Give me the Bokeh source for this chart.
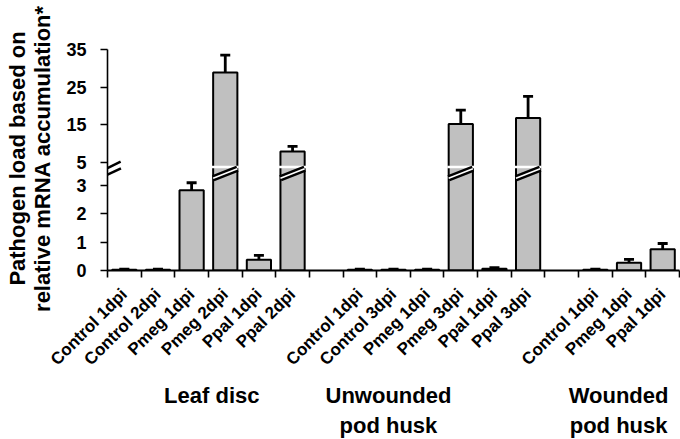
import math
from bokeh.plotting import figure
from bokeh.models import (ColumnDataSource, Range1d, LinearAxis, FixedTicker, Whisker,
                          TeeHead, Arrow)
from bokeh.embed import file_html
from bokeh.resources import INLINE

# ---------------- data ----------------
group_titles = ["Leaf disc", "Unwounded\npod husk", "Wounded\npod husk"]

leaf_labels = ["Control 1dpi", "Control 2dpi", "Pmeg 1dpi", "Pmeg 2dpi", "Ppal 1dpi", "Ppal 2dpi"]
leaf_values = [0.03, 0.03, 2.83, 28.9, 0.38, 7.9]
leaf_errors = [0.02, 0.02, 0.26, 4.6, 0.15, 1.33]

unw_labels = ["Control 1dpi", "Control 3dpi", "Pmeg 1dpi", "Pmeg 3dpi", "Ppal 1dpi", "Ppal 3dpi"]
unw_values = [0.03, 0.03, 0.03, 15.2, 0.06, 16.8]
unw_errors = [0.02, 0.02, 0.02, 3.65, 0.04, 5.75]

wnd_labels = ["Control 1dpi", "Pmeg 1dpi", "Ppal 1dpi"]
wnd_values = [0.03, 0.27, 0.75]
wnd_errors = [0.02, 0.12, 0.2]

low_ticks = [0, 1, 2, 3]
up_ticks = [5, 15, 25, 35]

y_title = "Pathogen load based on\nrelative mRNA accumulation*"

# ---------------- layout constants ----------------
FRAME_W, FRAME_H = 572, 224
BORDER_L, BORDER_T, BORDER_B = 107, 46, 169
TOP_GAP_PX = 3                         # px between frame top and the highest tick
LOW_PX = 28.4                          # px per unit, lower segment
UP_PX = 3.76                           # px per unit, upper segment
LOW_TOP = FRAME_H / LOW_PX
UP_TOP = up_ticks[-1] + TOP_GAP_PX / UP_PX
UP_BOTTOM = UP_TOP - FRAME_H / UP_PX
BREAK = 4.0                            # values above are drawn on upper scale
CUT_Y = 3.64                           # white cut (lower units)
BAR_W = 0.72
FONT = "Liberation Sans"

all_labels = [leaf_labels, unw_labels, wnd_labels]
all_values = [leaf_values, unw_values, wnd_values]
all_errors = [leaf_errors, unw_errors, wnd_errors]

# slot positions: one empty slot between groups
xs, labs_all, vals, errs = [], [], [], []
offset = 0
for labs, vs, es in zip(all_labels, all_values, all_errors):
    for j, (l, v, e) in enumerate(zip(labs, vs, es)):
        xs.append(offset + j + 0.5)
        labs_all.append(l)
        vals.append(v)
        errs.append(e)
    offset += len(labs) + 1
n_slots = offset - 1

small = [i for i, v in enumerate(vals) if v < BREAK]
tall = [i for i, v in enumerate(vals) if v >= BREAK]

def pick(idx, arr):
    return [arr[i] for i in idx]

src_small = ColumnDataSource(dict(
    x=pick(small, xs), top=pick(small, vals),
    upper=[vals[i] + errs[i] for i in small],
    lower=[vals[i] - errs[i] for i in small],
))
src_tall = ColumnDataSource(dict(
    x=pick(tall, xs), top=pick(tall, vals),
    upper=[vals[i] + errs[i] for i in tall],
    lower=[vals[i] - errs[i] for i in tall],
    xl=[xs[i] - BAR_W / 2 - 0.04 for i in tall],
    xr=[xs[i] + BAR_W / 2 + 0.04 for i in tall],
    dl=[xs[i] - BAR_W / 2 for i in tall],
    dr=[xs[i] + BAR_W / 2 for i in tall],
))

p = figure(
    x_range=Range1d(0, n_slots),
    y_range=Range1d(0, LOW_TOP),
    frame_width=FRAME_W, frame_height=FRAME_H,
    output_backend="svg", toolbar_location=None,
    x_axis_location=None, y_axis_location=None,
    min_border_left=BORDER_L, min_border_right=1, min_border_top=BORDER_T,
    min_border_bottom=BORDER_B,
)
p.extra_y_ranges = {"upper": Range1d(UP_BOTTOM, UP_TOP)}
p.outline_line_color = None
p.grid.visible = False
p.background_fill_color = "white"
p.border_fill_color = "white"

BAR_FILL = "#c0c0c0"
p.vbar(x="x", top="top", bottom=0, width=BAR_W, source=src_small,
       fill_color=BAR_FILL, line_color="black", line_width=2)
p.vbar(x="x", top="top", bottom=UP_BOTTOM, width=BAR_W, source=src_tall,
       y_range_name="upper", fill_color=BAR_FILL, line_color="black", line_width=2)

# break decoration on tall bars
p.segment(x0="xl", x1="xr", y0=CUT_Y, y1=CUT_Y, source=src_tall,
          line_color="white", line_width=2.5)
p.segment(x0="dl", x1="dr", y0=3.25, y1=3.58, source=src_tall,
          line_color="black", line_width=6.5)
p.segment(x0="dl", x1="dr", y0=3.25, y1=3.58, source=src_tall,
          line_color="white", line_width=1.6)

# error bars
for src, rn in ((src_small, None), (src_tall, "upper")):
    w = Whisker(source=src, base="x", upper="upper", lower="lower",
                line_color="black", line_width=2.8,
                upper_head=TeeHead(size=10, line_width=2.8, line_color="black"),
                lower_head=TeeHead(size=10, line_width=2.8, line_color="black"))
    if rn:
        w.y_range_name = rn
    p.add_layout(w)

# y axis: lower ticks in lower units, upper ticks mapped from the upper scale
up_pos = [(t - UP_BOTTOM) * UP_PX / LOW_PX for t in up_ticks]
y_tick_pos = [float(t) for t in low_ticks] + up_pos
y_tick_txt = [str(t) for t in low_ticks] + [str(t) for t in up_ticks]

ax_y = LinearAxis(ticker=FixedTicker(ticks=y_tick_pos, minor_ticks=[]))
ax_y.major_label_overrides = dict(zip(y_tick_pos, y_tick_txt))
ax_y.bounds = (0, up_pos[-1])
ax_y.axis_line_color = "black"
ax_y.axis_line_width = 1.6
ax_y.major_tick_line_color = "black"
ax_y.major_tick_line_width = 1.6
ax_y.major_tick_out = 7
ax_y.major_tick_in = 0
ax_y.minor_tick_line_color = None
ax_y.major_label_standoff = 14
ax_y.major_label_text_font = FONT
ax_y.major_label_text_font_style = "bold"
ax_y.major_label_text_font_size = "18px"
ax_y.major_label_text_color = "black"
ax_y.axis_label = y_title
ax_y.axis_label_standoff = 8
ax_y.axis_label_text_font = FONT
ax_y.axis_label_text_font_style = "bold"
ax_y.axis_label_text_font_size = "22px"
ax_y.axis_label_text_color = "black"
ax_y.axis_label_text_line_height = 1.0
p.add_layout(ax_y, "left")

# x axes: boundary ticks, category labels, group titles
ax_ticks = LinearAxis(ticker=FixedTicker(ticks=list(range(n_slots + 1)), minor_ticks=[]))
ax_ticks.axis_line_color = "black"
ax_ticks.axis_line_width = 2
ax_ticks.major_tick_line_color = "black"
ax_ticks.major_tick_line_width = 1.6
ax_ticks.major_tick_out = 7
ax_ticks.major_tick_in = 0
ax_ticks.minor_tick_line_color = None
ax_ticks.major_label_text_font_size = "0px"
ax_ticks.major_label_overrides = {t: "" for t in range(n_slots + 1)}
ax_ticks.major_label_standoff = 0
p.add_layout(ax_ticks, "below")

ax_cat = LinearAxis(ticker=FixedTicker(ticks=xs, minor_ticks=[]))
ax_cat.major_label_overrides = dict(zip(xs, labs_all))
ax_cat.axis_line_color = None
ax_cat.major_tick_line_color = None
ax_cat.major_tick_out = 0
ax_cat.minor_tick_line_color = None
ax_cat.major_label_orientation = math.pi / 4
ax_cat.major_label_standoff = 14
ax_cat.major_label_text_font = FONT
ax_cat.major_label_text_font_style = "bold"
ax_cat.major_label_text_font_size = "17px"
ax_cat.major_label_text_color = "black"
p.add_layout(ax_cat, "below")

group_pos = [3.1, 8.35, 15.19]       # label anchor positions (slot units)
ax_grp = LinearAxis(ticker=FixedTicker(ticks=group_pos, minor_ticks=[]))
ax_grp.major_label_overrides = dict(zip(group_pos, group_titles))
ax_grp.axis_line_color = None
ax_grp.major_tick_line_color = None
ax_grp.major_tick_out = 0
ax_grp.minor_tick_line_color = None
ax_grp.major_label_standoff = 4
ax_grp.major_label_text_font = FONT
ax_grp.major_label_text_font_style = "bold"
ax_grp.major_label_text_font_size = "22px"
ax_grp.major_label_text_line_height = 1.2
ax_grp.major_label_text_color = "black"
p.add_layout(ax_grp, "below")

# axis break marks
for (xa, ya, xb, yb) in ((-0.31, 3.42, 0.39, 3.83), (-0.36, 3.17, 0.40, 3.60)):
    p.add_layout(Arrow(x_start=xa, y_start=ya, x_end=xb, y_end=yb, end=None,
                       line_color="black", line_width=2.5))

open("out.html", "w").write(file_html(p, INLINE))
